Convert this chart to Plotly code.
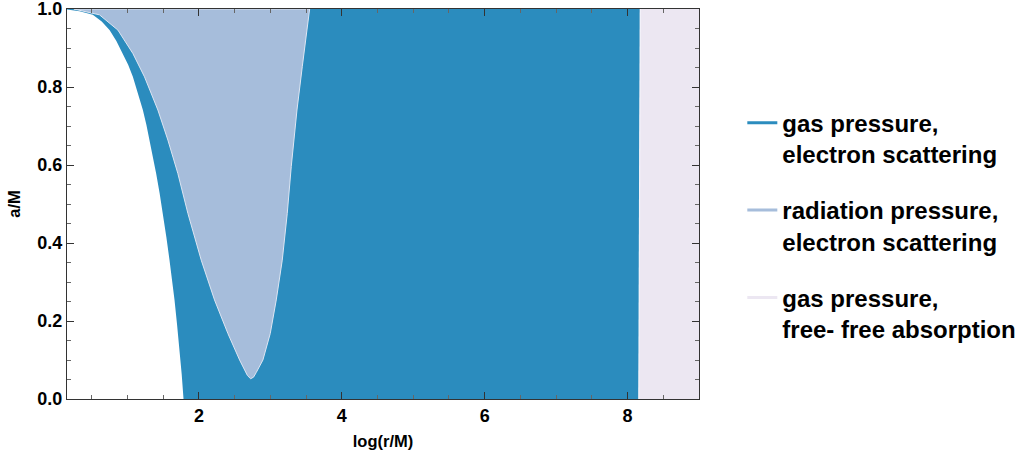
import plotly.graph_objects as go

# ---- data ----
# inner boundary (white / dark blue): log(r/M) vs a/M
isco_x = [0.154, 0.330, 0.515, 0.640, 0.749, 0.845, 0.936, 1.010, 1.076, 1.150, 1.216, 1.265, 1.309, 1.358, 1.402, 1.450,
          1.496, 1.545, 1.589, 1.625, 1.659, 1.695, 1.729, 1.760, 1.785]
isco_a = [0.999, 0.994, 0.985, 0.968, 0.946, 0.918, 0.886, 0.857, 0.826, 0.784, 0.741, 0.703, 0.664, 0.622, 0.578, 0.528,
          0.476, 0.415, 0.356, 0.305, 0.254, 0.190, 0.126, 0.062, 0.000]

# radiation-pressure region boundary (closed loop, top-left -> bottom -> top-right)
rad_x = [0.250, 0.375, 0.609, 0.866, 1.076, 1.239, 1.426, 1.566, 1.706, 1.846, 2.033, 2.219, 2.406, 2.570, 2.630, 2.680,
         2.724, 2.765, 2.803, 2.850, 2.896, 2.999, 3.083, 3.167, 3.237, 3.293, 3.373, 3.447, 3.503, 3.550]
rad_a = [1.000, 0.995, 0.985, 0.946, 0.886, 0.826, 0.741, 0.664, 0.578, 0.476, 0.356, 0.254, 0.168, 0.100, 0.078, 0.060,
         0.052, 0.056, 0.068, 0.084, 0.100, 0.168, 0.254, 0.356, 0.476, 0.596, 0.741, 0.852, 0.938, 1.000]

# edge of free-free absorption region
ff_x = [8.178, 8.158]
ff_a = [1.0, 0.0]
x_min = 0.154
x_max = 9.0

names = ["gas pressure,<br>electron scattering",
         "radiation pressure,<br>electron scattering",
         "gas pressure,<br>free- free absorption"]
colors = ["#2b8cbe", "#a6bddb", "#ece7f2"]

FONT = "Liberation Sans, Arial, sans-serif"

fig = go.Figure()

# dark region: between inner boundary and free-free edge
dx = [x_min] + isco_x + [ff_x[1], ff_x[0], x_min]
da = [1.0] + isco_a + [ff_a[1], ff_a[0], 1.0]
fig.add_trace(go.Scatter(x=dx, y=da, fill="toself", fillcolor=colors[0], mode="lines",
                         line=dict(width=0, color=colors[0]), showlegend=False, hoverinfo="skip"))

# radiation region
fig.add_trace(go.Scatter(x=rad_x + [rad_x[0]], y=rad_a + [rad_a[0]], fill="toself", fillcolor=colors[1],
                         mode="lines", line=dict(width=1, color="rgba(222,230,243,1)"),
                         showlegend=False, hoverinfo="skip"))

# free-free region
fx = [ff_x[0], x_max, x_max, ff_x[1], ff_x[0]]
fa = [ff_a[0], ff_a[0], ff_a[1], ff_a[1], ff_a[0]]
fig.add_trace(go.Scatter(x=fx, y=fa, fill="toself", fillcolor=colors[2], mode="lines",
                         line=dict(width=0, color=colors[2]), showlegend=False, hoverinfo="skip"))
fig.add_trace(go.Scatter(x=ff_x, y=ff_a, mode="lines", line=dict(width=1.2, color="rgba(245,243,250,1)"),
                         showlegend=False, hoverinfo="skip"))

# legend entries
for i, (n, c) in enumerate(zip(names, colors)):
    fig.add_trace(go.Scatter(x=[None], y=[None], mode="lines", name=n, legendgroup=str(i),
                             line=dict(color=c, width=3)))

axis_common = dict(showgrid=False, zeroline=False, showline=True, linecolor="#333", linewidth=1,
                   mirror="allticks", ticks="inside", ticklen=7, tickcolor="#333", tickwidth=1,
                   ticklabeloverflow="allow",
                   tickfont=dict(family=FONT, size=18, color="black", weight="bold"))

fig.update_xaxes(range=[x_min, x_max], tickvals=[2, 4, 6, 8], automargin=False,
                 minor=dict(dtick=0.5, ticks="inside", ticklen=4, tickcolor="#666"),
                 title=dict(text="log(r/M)", font=dict(family=FONT, size=16.5, color="black", weight="bold"), standoff=10),
                 **axis_common)
fig.update_yaxes(range=[0, 1], dtick=0.2, tickformat=".1f", automargin=True,
                 minor=dict(dtick=0.05, ticks="inside", ticklen=4, tickcolor="#666"),
                 title=dict(text="a/M", font=dict(family=FONT, size=16.5, color="black", weight="bold"), standoff=12),
                 **axis_common)

fig.update_layout(
    width=1027, height=457,
    margin=dict(l=67, r=328, t=9, b=58, autoexpand=False),
    plot_bgcolor="white", paper_bgcolor="white",
    legend=dict(xref="container", yref="container", x=0.7228, y=0.780, xanchor="left", yanchor="top",
                font=dict(family=FONT, size=24, color="black", weight="bold"), maxheight=420,
                traceorder="grouped", tracegroupgap=22, valign="top", bgcolor="rgba(0,0,0,0)"),
)

fig.write_html("out.html", config={"displayModeBar": False},
               post_script="document.body.style.margin='0';")
